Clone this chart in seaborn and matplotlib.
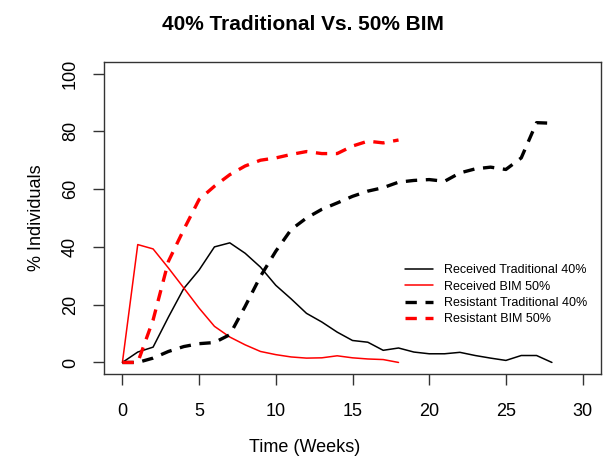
import matplotlib
matplotlib.use("Agg")
import matplotlib.pyplot as plt
import pandas as pd
import seaborn as sns

# weekly values
weeks_trad = list(range(0, 29))
weeks_bim = list(range(0, 19))

received_trad = [0, 3.6, 5.3, 15.7, 25.6, 32, 40, 41.4, 37.8, 33, 26.7, 22, 17, 14, 10.5,
                 7.6, 7, 4.2, 5, 3.6, 3, 3, 3.5, 2.4, 1.5, 0.7, 2.4, 2.4, 0]
resistant_trad = [0, 0, 1.5, 3.8, 5.5, 6.5, 6.9, 9.6, 19.4, 29.8, 38.5, 46, 50, 53, 55.2,
                  57.5, 59.3, 60.5, 62.4, 63, 63.3, 62.7, 65.6, 67, 67.6, 66.8, 70.8, 83, 82.8]
received_bim = [0, 40.8, 39.3, 32.7, 25.8, 18.8, 12.5, 8.8, 6.1, 3.8, 2.7, 1.9, 1.5, 1.6,
                2.3, 1.6, 1.2, 1.0, 0]
resistant_bim = [0, 0, 14.7, 35, 46, 56.4, 61, 65, 68, 70, 70.8, 72, 73, 72.3, 72.3,
                 74.9, 76.6, 76, 77]

series_names = ["Received Traditional 40%", "Received BIM 50%",
                "Resistant Traditional 40%", "Resistant BIM 50%"]

sns.set_style("ticks")
plt.rcParams['font.family'] = ['Liberation Sans', 'DejaVu Sans']
plt.rcParams['text.color'] = 'black'
plt.rcParams['axes.labelcolor'] = 'black'
plt.rcParams['xtick.labelcolor'] = 'black'
plt.rcParams['ytick.labelcolor'] = 'black'

df_trad = pd.DataFrame({"week": weeks_trad, "received": received_trad, "resistant": resistant_trad})
df_bim = pd.DataFrame({"week": weeks_bim, "received": received_bim, "resistant": resistant_bim})

fig = plt.figure(figsize=(6.07, 4.57), dpi=100)
ax = fig.add_axes([104 / 607, 1 - 374 / 457, (601 - 104) / 607, (374 - 62) / 457])

dash = (3.4, 2.6)
sns.lineplot(data=df_trad, x="week", y="received", ax=ax, color="black", lw=1.1,
             label=series_names[0])
sns.lineplot(data=df_bim, x="week", y="received", ax=ax, color="red", lw=1.1,
             label=series_names[1])
sns.lineplot(data=df_trad, x="week", y="resistant", ax=ax, color="black", lw=2.4,
             label=series_names[2]).lines[-1].set_dashes(dash)
sns.lineplot(data=df_bim, x="week", y="resistant", ax=ax, color="red", lw=2.4,
             label=series_names[3]).lines[-1].set_dashes(dash)

ax.set_xlim(-1.2, 31.2)
ax.set_ylim(-4, 104)
ax.set_xticks([0, 5, 10, 15, 20, 25, 30])
ax.set_yticks([0, 20, 40, 60, 80, 100])
ax.tick_params(axis="both", labelsize=13, length=8, width=1, color="#333333")
ax.tick_params(axis="x", pad=13)
ax.tick_params(axis="y", pad=10)
for lab in ax.get_yticklabels():
    lab.set_rotation(90)
    lab.set_va("center")
for sp in ax.spines.values():
    sp.set_visible(True)
    sp.set_color("#333333")
    sp.set_linewidth(1)

ax.set_xlabel("")
ax.set_ylabel("% Individuals", fontsize=13, labelpad=12)
fig.text(305 / 607, 1 - 448 / 457, "Time (Weeks)", ha="center", va="center", fontsize=13)
fig.text(303 / 607, 1 - 24 / 457, "40% Traditional Vs. 50% BIM", ha="center", va="center",
         fontsize=15, fontweight="bold")

leg = ax.legend(loc="lower right", bbox_to_anchor=(0.995, 0.12), frameon=False, fontsize=9,
                handlelength=2.2, handletextpad=0.9, labelspacing=0.35)
for h in leg.get_lines()[2:]:
    h.set_dashes(dash)

fig.savefig("out.png", dpi=100)
